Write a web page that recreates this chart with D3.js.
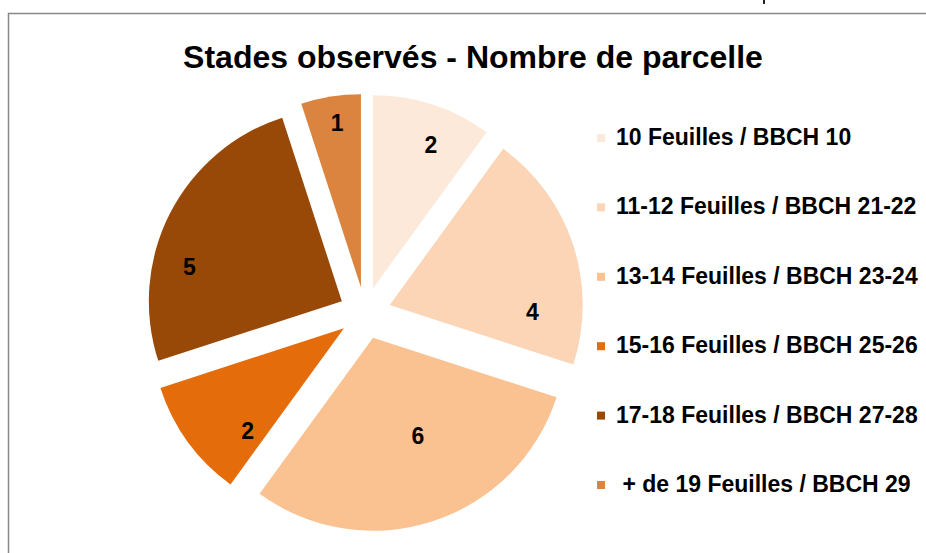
<!DOCTYPE html>
<html>
<head>
<meta charset="utf-8">
<script src="https://cdn.jsdelivr.net/npm/d3@7"></script>
<style>
  html, body { margin: 0; padding: 0; background: #fff; }
  svg { display: block; font-family: "Liberation Sans", Arial, sans-serif; }
  .label, .legend-label, .title { font-weight: bold; fill: #000; white-space: pre; }
</style>
</head>
<body>
<div class="chart"></div>
<script>
// data
var stages = ['10 Feuilles / BBCH 10', '11-12 Feuilles / BBCH 21-22', '13-14 Feuilles / BBCH 23-24',
  '15-16 Feuilles / BBCH 25-26', '17-18 Feuilles / BBCH 27-28', ' + de 19 Feuilles / BBCH 29'];
var counts = [2, 4, 6, 2, 5, 1];
var colors = ['#fde9d9', '#fbd5b5', '#fac191', '#e46c0a', '#984807', '#db843f'];

// where excel dropped each data label: fraction through the slice, fraction of radius
var labelAngleFrac = [0.61, 0.79, 0.44, 0.2, 0.34, 0.54];
var labelRadiusFrac = [0.8, 0.74, 0.56, 0.73, 0.81, 0.86];

var width = 926;
var height = 553;
var cx = 365;
var cy = 313;
var radius = 193;
var explode = 26;

var svg = d3.select('.chart').append('svg')
  .attr('width', width)
  .attr('height', height);

// chart area border (runs off the right and bottom of the shot)
svg.append('rect')
  .attr('x', 8.5)
  .attr('y', 13.5)
  .attr('width', 1000)
  .attr('height', 1000)
  .attr('fill', '#fff')
  .attr('stroke', '#888')
  .attr('stroke-width', 1.5);

// little stroke left over from something above the chart
svg.append('rect')
  .attr('x', 763)
  .attr('y', 0)
  .attr('width', 2)
  .attr('height', 4)
  .attr('fill', '#222');

svg.append('text')
  .attr('class', 'title')
  .attr('x', 473)
  .attr('y', 68)
  .style('text-anchor', 'middle')
  .style('font-size', '32px')
  .text('Stades observés - Nombre de parcelle');

var arcs = d3.pie().sort(null).value(function(d) { return d; })(counts);
var arc = d3.arc().innerRadius(0).outerRadius(radius);

var pieG = svg.append('g')
  .attr('transform', 'translate(' + cx + ',' + cy + ')');

var slices = pieG.selectAll('g.slice')
  .data(arcs)
  .enter()
  .append('g')
  .attr('class', 'slice')
  .attr('transform', function(d) {
    var mid = (d.startAngle + d.endAngle) / 2;
    return 'translate(' + (explode * Math.sin(mid)) + ',' + (-explode * Math.cos(mid)) + ')';
  });

slices.append('path')
  .attr('d', arc)
  .attr('fill', function(d, i) { return colors[i]; });

slices.append('text')
  .attr('class', 'label')
  .attr('transform', function(d, i) {
    var a = d.startAngle + (d.endAngle - d.startAngle) * labelAngleFrac[i];
    var r = radius * labelRadiusFrac[i];
    var p = d3.arc().innerRadius(r).outerRadius(r).startAngle(a).endAngle(a).centroid();
    return 'translate(' + p[0] + ',' + p[1] + ')';
  })
  .attr('dy', '0.36em')
  .style('text-anchor', 'middle')
  .style('font-size', '23px')
  .text(function(d) { return d.data; });

// legend
var legendY = d3.scalePoint()
  .domain(stages)
  .range([145, 492]);

var legend = svg.append('g').attr('class', 'legend');

legend.selectAll('rect')
  .data(stages)
  .enter()
  .append('rect')
  .attr('x', 597)
  .attr('y', function(d) { return legendY(d) - 11; })
  .attr('width', 8)
  .attr('height', 8)
  .attr('fill', function(d, i) { return colors[i]; });

legend.selectAll('text')
  .data(stages)
  .enter()
  .append('text')
  .attr('class', 'legend-label')
  .attr('x', 616)
  .attr('y', function(d) { return legendY(d); })
  .style('font-size', '23px')
  .text(function(d) { return d; });
</script>
</body>
</html>
